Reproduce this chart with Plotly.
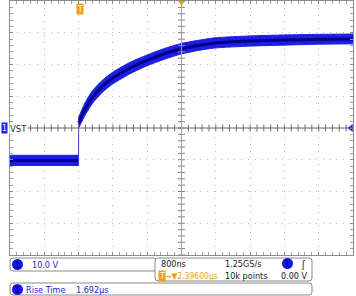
import numpy as np
import plotly.graph_objects as go

# ---------------- data (read from the screen) ----------------
# time in microseconds (trigger at 0), voltage in volts (10 V/div)
pre_time = [-1.6, -0.8, 0.0]
pre_upper = [-8.6, -8.6, -8.6]
pre_lower = [-11.8, -11.8, -11.8]

post_time = [0.0, 0.163, 0.327, 0.56, 0.8, 1.2, 1.595, 1.99, 2.39, 2.785, 3.18, 4.0, 4.79, 5.6, 6.4]
post_upper = [3.4, 8.3, 11.8, 15.1, 17.6, 20.7, 23.0, 25.0, 26.6, 27.6, 28.4, 29.0, 29.3, 29.5, 29.6]
post_lower = [0.0, 4.3, 7.8, 11.3, 13.9, 17.1, 19.6, 21.6, 23.3, 24.4, 25.2, 25.8, 26.1, 26.4, 26.5]

x_range = [-1.6, 6.4]      # 800 ns/div, 10 div
y_range = [-40, 40]        # 10 V/div, 8 div
x_div = 0.8
y_div = 10

ch_label = "VST"
scale_text = "10.0 V"
tb_text = "800ns"
rate_text = "1.25GS/s"
delay_text = "\u2192\u25bc2.39600\u00b5s"
points_text = "10k points"
trig_level_text = "0.00 V"
meas_name = "Rise Time"
meas_value = "1.692\u00b5s"

# ---------------- style ----------------
EDGE = "rgb(30,30,225)"
CORE = "rgb(0,0,140)"
ORANGE = "rgb(240,160,20)"
BLUE_TXT = "rgb(30,30,200)"
FONT = "Liberation Sans Narrow, DejaVu Sans Condensed, Liberation Sans, sans-serif"

fig = go.Figure()

def band(t, up, lo, shape):
    fig.add_trace(go.Scatter(x=t, y=up, mode="lines", line=dict(color=EDGE, width=1, shape=shape, smoothing=0.6),
                             hoverinfo="skip", showlegend=False))
    fig.add_trace(go.Scatter(x=t, y=lo, mode="lines", fill="tonexty", fillcolor=EDGE,
                             line=dict(color=EDGE, width=1, shape=shape, smoothing=0.6),
                             hoverinfo="skip", showlegend=False))
    mid = [(a + b) / 2 for a, b in zip(up, lo)]
    fig.add_trace(go.Scatter(x=t, y=mid, mode="lines", line=dict(color=CORE, width=3, shape=shape, smoothing=0.6),
                             hoverinfo="skip", showlegend=False))

band(pre_time, pre_upper, pre_lower, "linear")
band(post_time, post_upper, post_lower, "spline")

# step edge
fig.add_trace(go.Scatter(x=[post_time[0], post_time[0]], y=[pre_lower[-1], post_upper[0]], mode="lines",
                         line=dict(color="rgb(60,60,200)", width=1), hoverinfo="skip", showlegend=False))

# center crosshair
xc = (x_range[0] + x_range[1]) / 2
fig.add_shape(type="line", xref="paper", yref="y", x0=0, x1=1, y0=0, y1=0, line=dict(color="#6a6a6a", width=1))
fig.add_shape(type="line", xref="x", yref="paper", x0=xc, x1=xc, y0=0, y1=1, line=dict(color="#a0a0a0", width=1))
mx = np.arange(x_range[0], x_range[1] + 1e-9, x_div / 5)
my = np.arange(y_range[0], y_range[1] + 1e-9, y_div / 5)
fig.add_trace(go.Scatter(x=mx, y=[0] * len(mx), mode="markers", cliponaxis=False,
                         marker=dict(symbol="line-ns", size=5, line=dict(color="#707070", width=1)),
                         hoverinfo="skip", showlegend=False))
fig.add_trace(go.Scatter(x=[xc] * len(my), y=my, mode="markers", cliponaxis=False,
                         marker=dict(symbol="line-ew", size=5, line=dict(color="#808080", width=1)),
                         hoverinfo="skip", showlegend=False))

# markers: trigger level (right), horizontal position (top)
fig.add_trace(go.Scatter(x=[x_range[1] - 0.05], y=[0], mode="markers", cliponaxis=False,
                         marker=dict(symbol="triangle-left", size=7, color="rgb(40,40,255)"),
                         hoverinfo="skip", showlegend=False))
fig.add_trace(go.Scatter(x=[xc], y=[y_range[1] - 0.3], mode="markers", cliponaxis=False,
                         marker=dict(symbol="triangle-down", size=7, color=ORANGE),
                         hoverinfo="skip", showlegend=False))

axis_common = dict(showticklabels=False, zeroline=False, showline=True, linecolor="#8c8c8c", linewidth=1,
                   mirror="ticks", ticks="inside", ticklen=3, tickcolor="#8c8c8c",
                   showgrid=True, gridcolor="#b8b8b8", gridwidth=1, griddash="1px,5.8px")
fig.update_xaxes(range=x_range, dtick=x_div, tick0=0, **axis_common,
                 minor=dict(dtick=x_div / 5, ticks="inside", ticklen=3, tickcolor="#a0a0a0", showgrid=False))
fig.update_yaxes(range=y_range, dtick=y_div, tick0=0, **axis_common,
                 minor=dict(dtick=y_div / 5, ticks="inside", ticklen=3, tickcolor="#a0a0a0", showgrid=False))

W, H = 356, 296
L, R, T, B = 10, 3, 1, 41
pw, ph = W - L - R, H - T - B

def px(x):
    return (x - L) / pw

def py(y):
    return (H - B - y) / ph

def rrect(x0, y0, x1, y1, r=3, color="#8a8a8a"):
    ax0, ax1 = px(x0), px(x1)
    ay0, ay1 = py(y0), py(y1)   # ay0 top (bigger), ay1 bottom
    rx, ry = r / pw, r / ph
    path = (f"M {ax0+rx},{ay0} L {ax1-rx},{ay0} Q {ax1},{ay0} {ax1},{ay0-ry} "
            f"L {ax1},{ay1+ry} Q {ax1},{ay1} {ax1-rx},{ay1} L {ax0+rx},{ay1} "
            f"Q {ax0},{ay1} {ax0},{ay1+ry} L {ax0},{ay0-ry} Q {ax0},{ay0} {ax0+rx},{ay0} Z")
    fig.add_shape(type="path", xref="paper", yref="paper", path=path,
                  line=dict(color=color, width=1), fillcolor="white", layer="above")

def circ(x0, y0, x1, y1):
    fig.add_shape(type="circle", xref="paper", yref="paper", x0=px(x0), x1=px(x1), y0=py(y1), y1=py(y0),
                  fillcolor="rgb(20,20,240)", line=dict(width=0), layer="above")

def txt(x, y, s, color="#1a1a1a", anchor="left", size=9, bg=None):
    fig.add_annotation(x=px(x), y=py(y), xref="paper", yref="paper", text=s, showarrow=False,
                       xanchor=anchor, yanchor="middle", font=dict(family=FONT, size=size, color=color),
                       bgcolor=bg, borderpad=0)

rrect(10, 258, 157, 271)
rrect(155, 258, 312, 281)
rrect(10, 283, 312, 295)

circ(12, 259, 23, 270)
txt(17.5, 264.5, "1", color="#000040", anchor="center", size=8.5)
txt(31, 264.5, scale_text, color=BLUE_TXT)
txt(160, 264, tb_text)
txt(224, 264, rate_text)
circ(282, 258, 293, 269)
txt(287.5, 263.5, "1", color="#000040", anchor="center", size=8.5)
txt(300, 264, "\u0283", size=10)
txt(158, 276, "T", color="white", size=8.5, bg=ORANGE)
txt(164, 276, delay_text, color=ORANGE, size=8.5)
txt(224, 276, points_text)
txt(309, 276, trig_level_text, anchor="right")

circ(12, 284, 23, 295)
txt(17.5, 289.5, "1", color="#000040", anchor="center", size=8.5)
txt(25, 289.5, meas_name, color=BLUE_TXT)
txt(75, 289.5, meas_value, color=BLUE_TXT)

# channel marker + label
txt(0.5, 128, "1", color="white", size=8.5, bg="rgb(30,30,240)")
txt(9, 128, ch_label, color="#303030", size=9.5, bg="white")
# trigger position marker
txt(76, 9, "T", color="white", size=8.5, bg=ORANGE)

fig.update_layout(width=W, height=H, margin=dict(l=L, r=R, t=T, b=B),
                  paper_bgcolor="white", plot_bgcolor="white", showlegend=False)
fig.write_html("out.html")
